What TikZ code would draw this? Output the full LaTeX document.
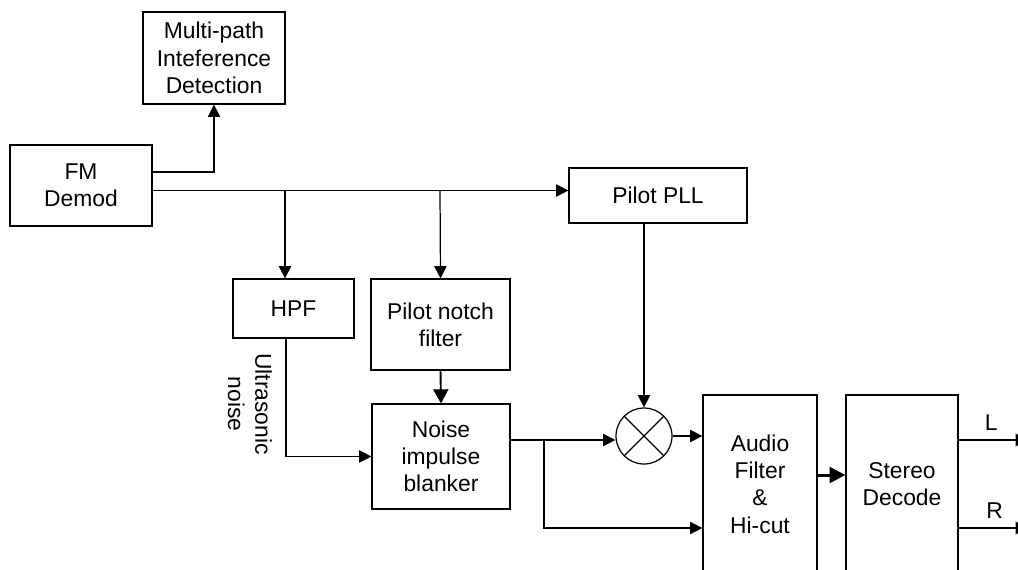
\documentclass[tikz,border=0pt]{standalone}
\usepackage{fontspec}
\setmainfont{Liberation Sans}
\usetikzlibrary{arrows.meta}

\begin{document}
\begin{tikzpicture}[x=0.02cm, y=-0.02cm, >={Triangle[length=7pt,width=7pt]}, line width=0.7pt,
        every node/.style={font=\fontsize{13}{15.5}\selectfont},
        block/.style={draw, align=center, inner sep=0pt},
        mixer/.style={draw, circle, minimum size=1.12cm, inner sep=0pt},
        midarrow/.style={line width=1.1pt, -{Triangle[length=8pt,width=8.5pt]}},
        bigarrow/.style={line width=1.7pt, -{Triangle[length=9pt,width=9pt]}}]
            \clip (0,0) rectangle (1018,569);
            % blocks
            \node[block, minimum width=2.84cm, minimum height=1.84cm] (mpid) at (214,58) {Multi-path\\Inteference\\Detection};
            \node[block, minimum width=2.84cm, minimum height=1.62cm] (demod) at (81,185.5) {FM\\Demod};
            \node[block, minimum width=3.56cm, minimum height=1.1cm] (pll) at (658,195.5) {Pilot PLL};
            \node[block, minimum width=2.42cm, minimum height=1.18cm] (hpf) at (293.5,308.5) {HPF};
            \node[block, minimum width=2.78cm, minimum height=1.82cm] (notch) at (440.5,324.5) {Pilot notch\\filter};
            \node[block, minimum width=2.76cm, minimum height=2.1cm] (blanker) at (441,456.5) {Noise\\impulse\\blanker};
            \node[mixer] (mix) at (644,436) {};
            \draw (mix.north west) -- (mix.south east) (mix.north east) -- (mix.south west);
            \node[block, minimum width=2.28cm, minimum height=3.56cm] (audio) at (760,484) {Audio\\Filter\\\&\\Hi-cut};
            \node[block, minimum width=2.24cm, minimum height=3.56cm] (stereo) at (902,484) {Stereo\\Decode};
            \node[rotate=-90, align=center] (usn) at (250,404) {Ultrasonic\\noise};
            % junctions and outputs
            \coordinate (tap) at ([yshift=-0.1cm]demod.east);
            \coordinate (j1) at (285,190);
            \coordinate (j2) at (440,190);
            \coordinate (bo) at ([yshift=0.33cm]blanker.east);
            \coordinate (j3) at (544,440);
            \coordinate (lout) at (1028,440);
            \coordinate (rout) at (1028,528);
            % connectors
            \draw[->] ([yshift=0.27cm]demod.east) -| (mpid.south);
            \draw[->] (tap) -- (tap -| pll.west);
            \draw[->] (j1) -- (j1 |- hpf.north);
            \draw[->] (j2) -- (notch.north);
            \draw[->] ([xshift=-0.15cm]hpf.south) |- (blanker.west);
            \draw[midarrow] (notch.south) -- (blanker.north);
            \draw[->] (bo) -- (bo -| mix.west);
            \draw[->] (pll.south -| mix.north) -- (mix.north);
            \draw[->] (mix.east) -- (mix.east -| audio.west);
            \draw[->] (j3) |- (audio.west |- 0,528);
            \draw[bigarrow] ([yshift=0.18cm]audio.east) -- ([yshift=0.18cm]stereo.west);
            \draw[->] (stereo.east |- lout) -- (lout) node[pos=0.47, above=2pt] (lbl) {L};
            \draw[->] (stereo.east |- rout) -- (rout) node[pos=0.52, above=2pt] (rbl) {R};
        \end{tikzpicture}
\end{document}
